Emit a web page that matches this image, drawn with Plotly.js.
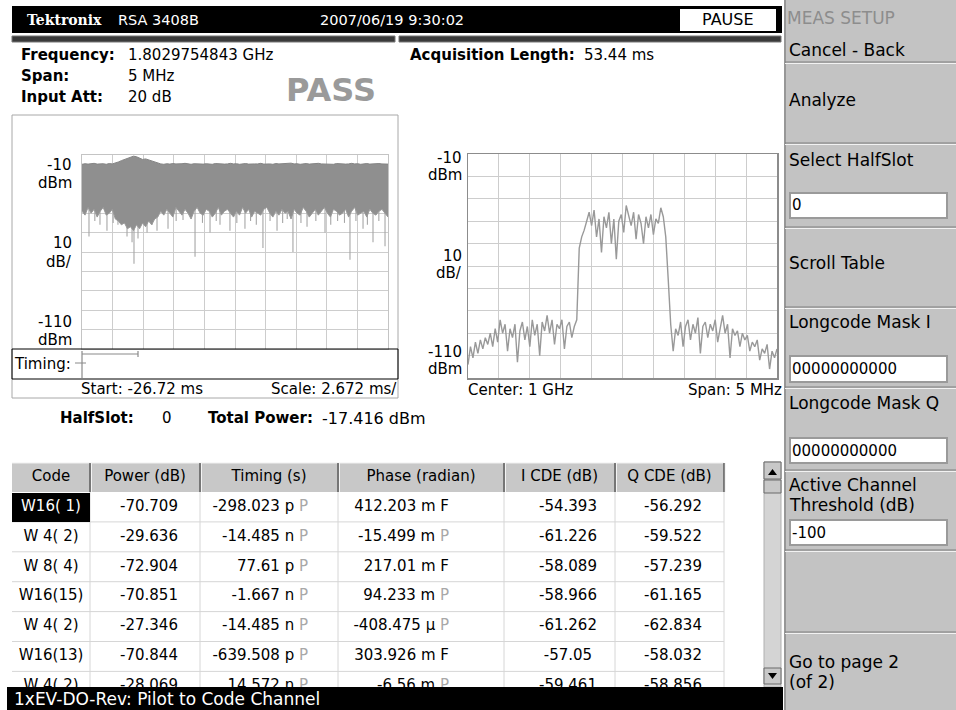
<!DOCTYPE html>
<html><head><meta charset="utf-8">
<script src="https://cdn.plot.ly/plotly-3.0.1.min.js"></script>
<style>html,body{margin:0;padding:0;background:#fff;overflow:hidden}#chart{width:956px;height:710px;}</style>
</head><body><div id="chart"></div>
<script>
// ---------------- DATA ----------------
// Time-domain power trace (dBm), left display: start -26.72 ms, 2.672 ms/div
const timeStart = -26.72, timeScale = 2.672;
const upperEnv = [-14.8,-14.5,-14.7,-14.6,-14.3,-14.7,-14.6,-14.5,-14.8,-14.4,-14.6,-14.2,
  -13.6,-12.9,-12.3,-11.7,-11.1,-10.6,-10.9,-11.6,-12.3,-12.0,-12.6,-13.1,-13.6,-14.1,
  -14.6,-14.8,-14.5,-14.7,-14.4,-14.6,-14.7,-14.5,-14.3,-14.6,-14.8,-14.5,-14.6,-14.4,-14.7,-14.5,-14.6,-14.8,-14.4,-14.6,
  -14.5,-14.7,-14.6,-14.3,-14.6,-14.5,-14.8,-14.6,-14.4,-14.7,-14.5,-14.6,-14.6,-14.3,-14.7,-14.5,-14.6,-14.8,-14.4,-14.6,
  -14.5,-14.7,-14.6,-14.2,-14.6,-14.5,-14.8,-14.6,-14.4,-14.7,-14.5,-14.6,-14.3,-14.6,-14.7,-14.5,-14.6,-14.8,-14.4,-14.6,
  -14.5,-14.7,-14.6,-14.3,-14.6,-14.5,-14.8,-14.6,-14.4,-14.7,-14.5,-14.6,-14.4,-14.6,-14.5,-14.7];
const lowerEnv = [-39,-41,-37,-40,-38,-42,-39,-37,-41,-40,-38,-43,
  -44,-46,-45,-48,-47,-49,-46,-48,-45,-47,-44,-46,-43,-42,
  -39,-41,-38,-40,-42,-37,-39,-41,-38,-40,-43,-39,-37,-40,-41,-38,-39,-42,-40,-37,
  -41,-39,-38,-40,-42,-39,-41,-37,-40,-38,-42,-39,-40,-41,-38,-37,-40,-42,-39,-41,
  -38,-40,-39,-43,-38,-40,-41,-37,-39,-42,-40,-38,-41,-39,-37,-40,-42,-38,-39,-41,
  -40,-38,-42,-39,-37,-41,-40,-39,-42,-38,-40,-41,-39,-38,-40,-42];
const spikeTimes  = [-26.11,-25.6,-25.15,-24.54,-24.0,-23.58,-22.79,-22.35,-22.18,-21.83,-21.04,-20.6,-20.17,-19.21,-18.5,-17.90,-16.85,-16.2,-15.54,-15.0,-14.67,-13.80,-13.2,-12.49,-12.0,-11.5,-10.92,-10.3,-9.69,-9.2,-8.8,-8.30,-7.6,-7.07,-6.3,-5.50,-5.0,-4.4,-3.8,-3.32,-2.8,-2.18,-1.8,-1.31,-0.8,-0.26];
const spikeLevels = [-52,-44,-46,-49,-45,-46,-52,-55,-66,-53,-50,-46,-49,-48,-44,-43.5,-62.5,-45,-50,-44,-46,-49,-45,-48,-44,-46,-58,-44,-49,-45,-43,-60,-45,-47,-44,-50,-46,-44,-45,-64,-44,-48,-46,-55,-44,-57];

// Spectrum (dBm), right display: center 1 GHz, span 5 MHz (offset in MHz)
const spanMHz = 5;
const spectrum = [-104,-96,-101,-94,-99,-93,-97,-92,-95,-90,-96,-88,-94,-84,-90,-86,-98,-88,-92,-86,
  -103,-89,-85,-93,-87,-96,-84,-91,-86,-100,-85,-89,-82,-90,-84,-95,-86,-88,-84,-97,
  -87,-85,-92,-87,-84,-52,-47,-44,-40,-36,-42,-35,-47,-39,-54,-38,-43,-36,-50,-39,
  -57,-40,-37,-45,-33,-38,-42,-36,-48,-37,-41,-50,-38,-43,-37,-46,-39,-41,-34,-38,
  -47,-66,-86,-98,-88,-91,-85,-96,-87,-84,-93,-86,-90,-83,-99,-87,-85,-92,-86,-89,
  -84,-94,-87,-82,-90,-86,-101,-88,-91,-89,-96,-90,-93,-91,-98,-94,-96,-93,-102,-97,
  -99,-95,-106,-98,-101,-97];

// Table
const headers = ['Code','Power (dB)','Timing (s)','Phase (radian)','I CDE (dB)','Q CDE (dB)'];
const codes   = ['W16( 1)','W 4( 2)','W 8( 4)','W16(15)','W 4( 2)','W16(13)','W 4( 2)'];
const power   = ['-70.709','-29.636','-72.904','-70.851','-27.346','-70.844','-28.069'];
const timing  = ['-298.023 p','-14.485 n','77.61 p','-1.667 n','-14.485 n','-639.508 p','14.572 n'];
const timingFlag = ['P','P','P','P','P','P','P'];
const phase   = ['412.203 m','-15.499 m','217.01 m','94.233 m','-408.475 \u00b5','303.926 m','-6.56 m'];
const phaseFlag = ['F','P','F','P','P','F','P'];
const iCDE    = ['-54.393','-61.226','-58.089','-58.966','-61.262','-57.05','-59.461'];
const qCDE    = ['-56.292','-59.522','-57.239','-61.165','-62.834','-58.032','-58.856'];

// Menu
const menuTitle = 'MEAS SETUP';
const menuItems = ['Cancel - Back','Analyze','Select HalfSlot','Scroll Table','Longcode Mask I','Longcode Mask Q','Active Channel','Threshold (dB)','Go to page 2','(of 2)'];
const menuFields = ['0','00000000000','00000000000','-100'];

// ---------------- LAYOUT HELPERS ----------------
const W = 956, H = 710;
const X = x => x / W;
const Y = y => 1 - y / H;
const FONT = '"DejaVu Sans", Verdana, sans-serif';
const shapes = [], ann = [];
function rect(x0,y0,x1,y1,fill,lc,lw,layer){
  shapes.push({type:'rect',xref:'paper',yref:'paper',x0:X(x0),x1:X(x1),y0:Y(y1),y1:Y(y0),
    fillcolor:fill||'rgba(0,0,0,0)',line:{color:lc||'rgba(0,0,0,0)',width:lw||0},layer:layer||'above'});
}
function seg(x0,y0,x1,y1,c,w,layer){
  shapes.push({type:'line',xref:'paper',yref:'paper',x0:X(x0),x1:X(x1),y0:Y(y0),y1:Y(y1),
    line:{color:c,width:w||1},layer:layer||'above'});
}
function path(d,fill){ shapes.push({type:'path',xref:'paper',yref:'paper',path:d,fillcolor:fill,line:{width:0},layer:'above'}); }
function P(x,y){ return X(x)+','+Y(y); }
function text(x,y,t,o){
  o=o||{};
  ann.push({xref:'paper',yref:'paper',x:X(x),y:Y(y),text:t,showarrow:false,
    xanchor:o.xa||'left',yanchor:'middle',align:o.align||'left',borderpad:0,borderwidth:0,
    font:{family:o.f||FONT,size:o.s||15,color:o.c||'#000'}});
}

// ---------------- TOP BAR ----------------
rect(12,6,782,33,'#000');
text(27,20,'<b>Tektronix</b>',{f:'"DejaVu Serif", serif',s:14,c:'#fff'});
text(118,20,'RSA 3408B',{s:14.5,c:'#fff'});
text(320,20,'2007/06/19 9:30:02',{s:14.5,c:'#fff'});
rect(680,9,776,31,'#fff');
text(728,20,'PAUSE',{xa:'center',s:16});
rect(12,36,395,42,'#3a3a3a','#777',1);
rect(399,36,781,42,'#3a3a3a','#777',1);

// ---------------- INFO ----------------
text(21,55,'<b>Frequency:</b>');  text(128,55,'1.8029754843 GHz');
text(21,76,'<b>Span:</b>');       text(128,76,'5 MHz');
text(21,97,'<b>Input Att:</b>');  text(128,97,'20 dB');
text(331,90,'<b>PASS</b>',{xa:'center',s:32,c:'#9a9a9a'});
text(410,55,'<b>Acquisition Length:</b>'); text(584,55,'53.44 ms');

// ---------------- LEFT DISPLAY FRAME ----------------
rect(12,115,398,398,null,'#a8a8a8',1,'below');
rect(12,349,398,379,null,'#000',1);
text(14,364,'Timing:');
seg(82,351,82,378,'#8a8a8a',1.2); seg(82,354,138,354,'#8a8a8a',1.2); seg(138,351,138,357,'#8a8a8a',1.2);
seg(75,363,86,363,'#8a8a8a',1);
text(81,389,'Start: -26.72 ms');
text(397,389,'Scale: 2.672 ms/',{xa:'right'});
text(72,165,'-10',{xa:'right'}); text(72,183,'dBm',{xa:'right'});
text(72,243,'10',{xa:'right'});  text(72,262,'dB/',{xa:'right'});
text(72,322,'-110',{xa:'right'}); text(72,340,'dBm',{xa:'right'});

text(60,418,'<b>HalfSlot:</b>'); text(162,418,'0');
text(208,418,'<b>Total Power:</b>'); text(322,418,'-17.416 dBm',{s:16});

// ---------------- RIGHT DISPLAY ----------------
text(462,158,'-10',{xa:'right'}); text(462,175,'dBm',{xa:'right'});
text(462,256,'10',{xa:'right'});  text(462,273,'dB/',{xa:'right'});
text(462,352,'-110',{xa:'right'}); text(462,369,'dBm',{xa:'right'});
text(468,390,'Center: 1 GHz');
text(782,390,'Span: 5 MHz',{xa:'right'});

// ---------------- TABLE ----------------
const colEdges = [12,90,200,338,504,615,724];
const headTop = 463, headBot = 492, pitch = 29.9, tableBottom = 687;
rect(12,headTop,724,headBot,'#c8c8c8','#c8c8c8',0,'below');
seg(12,headTop,724,headTop,'#f0f0f0',1,'below');
for(let i=1;i<colEdges.length;i++){
  seg(colEdges[i],headTop,colEdges[i],headBot,'#4a4a4a',1.3,'below');
  seg(colEdges[i]+1.5,headTop,colEdges[i]+1.5,headBot,'#f4f4f4',1,'below');
  seg(colEdges[i],headBot,colEdges[i],tableBottom,'#d6d6d6',1,'below');
}
for(let r=0;r<codes.length;r++){
  seg(12,headBot+pitch*(r+1),724,headBot+pitch*(r+1),'#d6d6d6',1,'below');
}
rect(12,headBot+1,90,headBot+pitch,'#000','#000',0,'below');

// scrollbar
rect(764,462,781,687,'#d4d4d4','#b0b0b0',1);
rect(764,462,781,479,'#c8c8c8','#6a6a6a',1);
path('M'+P(768,475)+'L'+P(777,475)+'L'+P(772.5,469)+'Z','#000');
rect(764,480,781,493,'#c8c8c8','#6a6a6a',1);
rect(764,668,781,684,'#c8c8c8','#6a6a6a',1);
path('M'+P(768,673)+'L'+P(777,673)+'L'+P(772.5,679)+'Z','#000');

// status bar
rect(7,687,783,710,'#000');
text(14,698.5,'1xEV-DO-Rev: Pilot to Code Channel',{s:17,c:'#fff'});

// ---------------- MENU PANEL ----------------
rect(784,0,956,710,'#c3c3c3','#c3c3c3',0,'below');
seg(785,0,785,710,'#7a7a7a',1.2);
text(787,18,menuTitle,{s:17,c:'#8d8d8d'});
const seps = [62,143,227,307,387,470,550,632];
seps.forEach(s=>{ seg(785,s,956,s,'#7f7f7f',1); seg(785,s+1.5,956,s+1.5,'#f2f2f2',1); });
const itemY = [50,100,160,263,322,403,485,505,662,682];
menuItems.forEach((t,i)=>text(789,itemY[i],t,{s:17}));
const fieldY = [[193,218],[356,382],[438,463],[520,545]];
fieldY.forEach((f,i)=>{
  rect(790,f[0],947,f[1],'#fff','#9a9a9a',2);
  text(792,(f[0]+f[1])/2,menuFields[i],{s:15});
});

// ---------------- TRACES ----------------
const nT = upperEnv.length;
const tSpan = timeScale*10;
const tAxis = upperEnv.map((v,k)=>timeStart + k*tSpan/(nT-1));
const spikeX = [], spikeY = [];
spikeTimes.forEach((t,i)=>{ spikeX.push(t,t,null); spikeY.push(-30,spikeLevels[i],null); });
const fAxis = spectrum.map((v,k)=>-spanMHz/2 + k*spanMHz/(spectrum.length-1));

const traces = [
  {x:spikeX,y:spikeY,mode:'lines',line:{color:'#a6a6a6',width:1.1},xaxis:'x',yaxis:'y',hoverinfo:'skip',showlegend:false},
  {x:tAxis,y:upperEnv,mode:'lines',line:{color:'#858585',width:1},xaxis:'x',yaxis:'y',hoverinfo:'skip',showlegend:false},
  {x:tAxis,y:lowerEnv,mode:'lines',fill:'tonexty',fillcolor:'#8f8f8f',line:{color:'#9a9a9a',width:1},xaxis:'x',yaxis:'y',hoverinfo:'skip',showlegend:false},
  {x:fAxis,y:spectrum,mode:'lines',line:{color:'#999999',width:1.4},xaxis:'x2',yaxis:'y2',hoverinfo:'skip',showlegend:false}
];

// table text via text traces
const rowY = codes.map((c,r)=>headBot + pitch*(r+0.5));
const flagColor = f => f==='F' ? '#000' : '#a8a8a8';
const cols = [
  {v:codes, x:51, pos:'middle center'},
  {v:power, x:149, pos:'middle center'},
  {v:timing.map((t,i)=>t+' <span style="color:'+flagColor(timingFlag[i])+'">'+timingFlag[i]+'</span>'), x:308, pos:'middle left'},
  {v:phase.map((t,i)=>t+' <span style="color:'+flagColor(phaseFlag[i])+'">'+phaseFlag[i]+'</span>'), x:449, pos:'middle left'},
  {v:iCDE, x:568, pos:'middle center'},
  {v:qCDE, x:673, pos:'middle center'}
];
cols.forEach((col,c)=>{
  traces.push({x:col.v.map(()=>col.x),y:rowY,text:col.v,mode:'text',textposition:col.pos,
    textfont:{family:FONT,size:15,color:col.v.map((v,r)=>(c===0&&r===0)?'#fff':'#000')},
    xaxis:'x3',yaxis:'y3',hoverinfo:'skip',showlegend:false,cliponaxis:true});
});
const headCenters = colEdges.slice(0,-1).map((e,i)=>(e+colEdges[i+1])/2);
traces.push({x:headCenters,y:headers.map(()=>(headTop+headBot)/2),text:headers,mode:'text',textposition:'middle center',
  textfont:{family:FONT,size:15,color:'#000'},xaxis:'x3',yaxis:'y3',hoverinfo:'skip',showlegend:false});

const gridAx = {showgrid:true,gridcolor:'#cdcdcd',gridwidth:1,zeroline:false,showticklabels:false,ticks:'',fixedrange:true,showline:true,mirror:true};
const layout = {
  width:W,height:H,margin:{l:0,r:0,t:0,b:0},paper_bgcolor:'#fff',plot_bgcolor:'rgba(0,0,0,0)',
  showlegend:false,
  xaxis:Object.assign({},gridAx,{domain:[X(82),X(388)],range:[timeStart,timeStart+tSpan],tick0:timeStart,dtick:timeScale,linecolor:'#c4c4c4',anchor:'y'}),
  yaxis:Object.assign({},gridAx,{domain:[Y(349),Y(155)],range:[-110,-10],tick0:-110,dtick:10,linecolor:'#c4c4c4',anchor:'x'}),
  xaxis2:Object.assign({},gridAx,{domain:[X(468),X(777)],range:[-spanMHz/2,spanMHz/2],tick0:-spanMHz/2,dtick:spanMHz/10,linecolor:'#8c8c8c',linewidth:1.5,anchor:'y2'}),
  yaxis2:Object.assign({},gridAx,{domain:[Y(378),Y(154)],range:[-110,-10],tick0:-110,dtick:10,linecolor:'#8c8c8c',linewidth:1.5,anchor:'x2'}),
  xaxis3:{domain:[X(12),X(724)],range:[12,724],visible:false,fixedrange:true,anchor:'y3'},
  yaxis3:{domain:[Y(tableBottom),Y(headTop)],range:[tableBottom,headTop],visible:false,fixedrange:true,anchor:'x3'},
  shapes:shapes,annotations:ann
};
Plotly.newPlot('chart',traces,layout,{displayModeBar:false,staticPlot:true});
</script></body></html>
